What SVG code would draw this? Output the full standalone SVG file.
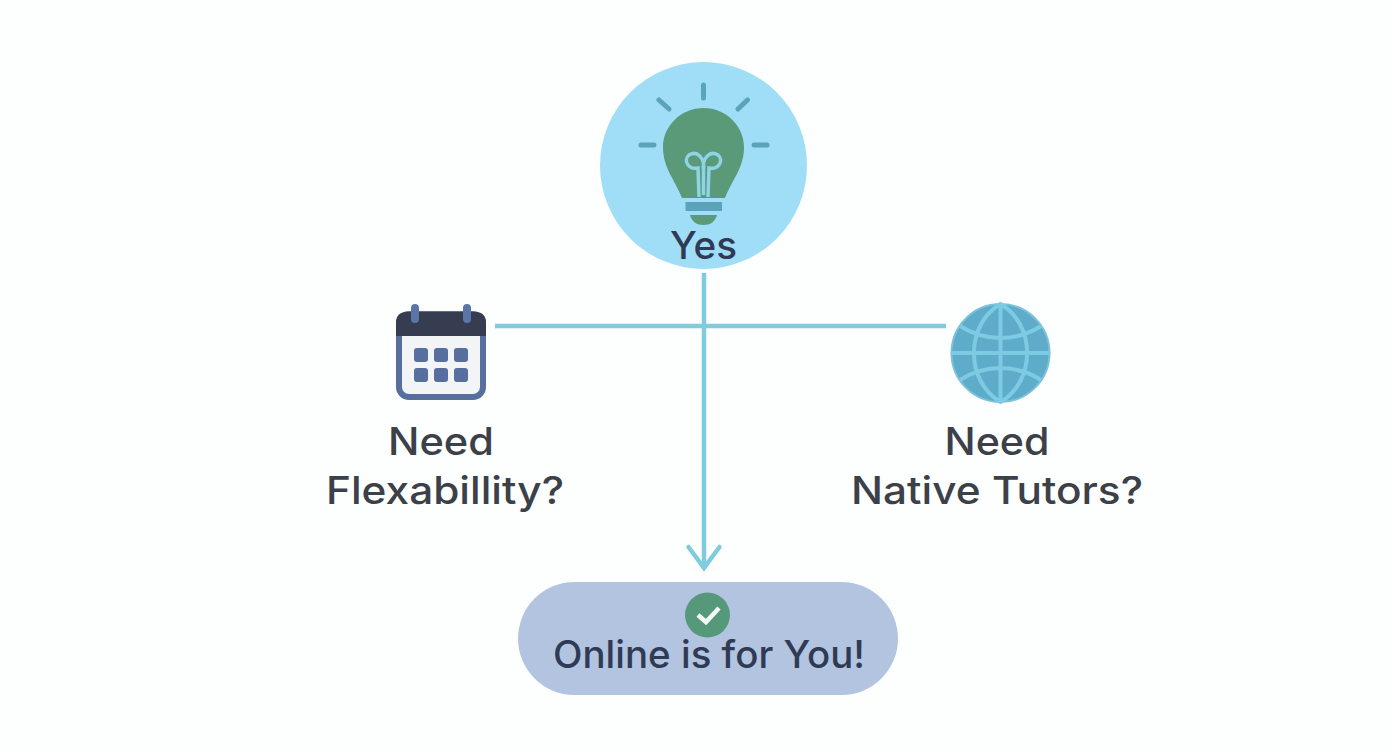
<svg xmlns="http://www.w3.org/2000/svg" width="1392" height="752" viewBox="0 0 1392 752">
<style>
.t{font-family:"Inter","Noto Sans","Liberation Sans",sans-serif;font-size:38px;font-weight:500;fill:#3c4048}
.d{fill:#2f3b54}
.c{fill:none;stroke:#80cbdc;stroke-width:4.5}
.ray{stroke:#5ba3b8;stroke-width:5;stroke-linecap:round}
.cell{fill:#566f9e}
.g{fill:none;stroke:#7ccbe4;stroke-width:4}
</style>
<rect width="1392" height="752" fill="#fdfefe"/>
<g id="connectors">
<path class="c" d="M495 326H946"/>
<path class="c" d="M704 273V568"/>
<path class="c" stroke-linecap="round" stroke-linejoin="miter" d="M688.500 547L704 568L719.500 547"/>
</g>
<g id="node-yes">
<circle cx="703.500" cy="165.500" r="103.500" fill="#a0def8"/>
<path class="ray" d="M703.500 85V98M659 100L669 109M747.500 100L738 109M641 145H654M754 145H767"/>
<path fill="#5a9a78" d="M703.500 108C726 108 744 126 744 147C744 168 733 178 725 198H682C674 178 663 168 663 147C663 126 681 108 703.500 108Z"/>
<rect x="685.500" y="202" width="36.500" height="9" fill="#5ba3b8"/>
<path fill="#5a9a78" d="M690 215H717C715 222 710 225 703.500 225C697 225 692 222 690 215Z"/>
<path fill="none" stroke="#8fd3e6" stroke-width="3.500" d="M699 197L698 168C688 170 683 160 689 155C697 150 705 158 703.500 170C702 158 710 150 718 155C724 160 719 170 709 168L708 197M703.500 170V195"/>
<text class="t d" x="703.500" y="259" text-anchor="middle" textLength="67" lengthAdjust="spacingAndGlyphs">Yes</text>
</g>
<g id="node-flexibility">
<rect x="399" y="314" width="84" height="83" rx="10" fill="#f2f4f5" stroke="#566f9e" stroke-width="6"/>
<path fill="#373d50" d="M396 336V322C396 316 400 312 406 312H476C482 312 486 316 486 322V336Z"/>
<path d="M415 308V319M467 308V319" stroke="#5a76a8" stroke-width="8" stroke-linecap="round"/>
<rect class="cell" x="414" y="348" width="14" height="14" rx="3"/>
<rect class="cell" x="434" y="348" width="14" height="14" rx="3"/>
<rect class="cell" x="454" y="348" width="14" height="14" rx="3"/>
<rect class="cell" x="414" y="368" width="14" height="14" rx="3"/>
<rect class="cell" x="434" y="368" width="14" height="14" rx="3"/>
<rect class="cell" x="454" y="368" width="14" height="14" rx="3"/>
<text class="t" x="441" y="455" text-anchor="middle" textLength="106" lengthAdjust="spacingAndGlyphs">Need</text>
<text class="t" x="445" y="504" text-anchor="middle" textLength="238" lengthAdjust="spacingAndGlyphs">Flexabillity?</text>
</g>
<g id="node-native">
<circle cx="1000.500" cy="353" r="49" fill="#5eacca" stroke="#7cc2da" stroke-width="2"/>
<path class="g" d="M1000.500 305V401M952 353H1049M960 326C985 342 1016 342 1041 326M960 380C985 364 1016 364 1041 380"/>
<path class="g" d="M1000.500 304C965 325 965 381 1000.500 402C1036 381 1036 325 1000.500 304Z"/>
<text class="t" x="997" y="455" text-anchor="middle" textLength="105" lengthAdjust="spacingAndGlyphs">Need</text>
<text class="t" x="997" y="504" text-anchor="middle" textLength="292" lengthAdjust="spacingAndGlyphs">Native Tutors?</text>
</g>
<g id="node-online">
<rect x="518" y="582" width="380" height="113" rx="56.500" fill="#b2c4e0"/>
<circle cx="707.500" cy="615" r="22.500" fill="#56987a"/>
<path d="M698 615L706 622L719 608" fill="none" stroke="#f4fbf6" stroke-width="4.500"/>
<text class="t d" x="709" y="668" text-anchor="middle" textLength="312" lengthAdjust="spacingAndGlyphs">Online is for You!</text>
</g>
</svg>
